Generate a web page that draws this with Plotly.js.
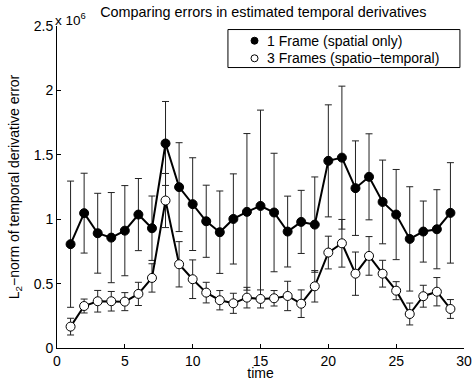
<!DOCTYPE html>
<html>
<head>
<meta charset="utf-8">
<script src="https://cdn.plot.ly/plotly-3.0.1.min.js"></script>
<style>html,body{margin:0;padding:0;background:#fff}</style>
</head>
<body>
<div id="chart" style="width:472px;height:381px"></div>
<script>
// values in units of 10^6
const time = [1,2,3,4,5,6,7,8,9,10,11,12,13,14,15,16,17,18,19,20,21,22,23,24,25,26,27,28,29];
const oneFrame = [0.806,1.047,0.891,0.857,0.911,1.036,0.930,1.588,1.249,1.117,0.984,0.899,1.002,1.057,1.103,1.052,0.904,0.979,0.958,1.453,1.478,1.241,1.329,1.134,1.036,0.847,0.904,0.922,1.049];
const oneFrameErr = [0.49,0.31,0.31,0.35,0.35,0.28,0.25,0.326,0.345,0.36,0.28,0.32,0.35,0.608,0.744,0.46,0.275,0.245,0.37,0.435,0.555,0.367,0.334,0.325,0.35,0.405,0.237,0.307,0.39];
const threeFrames = [0.166,0.326,0.363,0.363,0.360,0.420,0.544,1.145,0.650,0.534,0.430,0.371,0.347,0.391,0.381,0.386,0.404,0.344,0.479,0.741,0.813,0.577,0.715,0.577,0.445,0.264,0.402,0.437,0.303];
const threeFramesErr = [0.065,0.054,0.084,0.076,0.07,0.09,0.11,0.21,0.176,0.15,0.08,0.075,0.078,0.08,0.07,0.06,0.114,0.107,0.122,0.127,0.185,0.168,0.15,0.104,0.07,0.085,0.085,0.11,0.073];
const seriesNames = ['1 Frame (spatial only)', '3 Frames (spatio\u2212temporal)'];
const seriesFill = ['#000', '#fff'];
const yTicks = [0,0.5,1,1.5,2,2.5];
const xTicks = [0,5,10,15,20,25,30];

const F = 'Liberation Sans, Arial, Helvetica, sans-serif';
const errStyle = {type:'data', visible:true, color:'#222', thickness:1, width:3.5};

const traces = [
  {x: time, y: oneFrame, mode:'lines+markers', name: seriesNames[0], showlegend:false,
   error_y: Object.assign({array: oneFrameErr}, errStyle),
   line:{color:'#000', width:2},
   marker:{symbol:'circle', size:9, color:seriesFill[0], line:{color:'#000', width:1}}},
  {x: time, y: threeFrames, mode:'lines+markers', name: seriesNames[1], showlegend:false,
   error_y: Object.assign({array: threeFramesErr}, errStyle),
   line:{color:'#000', width:2},
   marker:{symbol:'circle', size:9, color:seriesFill[1], line:{color:'#000', width:1}}}
];

// manual legend box (paper coordinates of the plot area)
const legBox = {x0:0.420, x1:0.990, y0:0.871, y1:0.989};
const legRowY = [0.9543, 0.8997];
const legMarkX = 0.4853, legTextX = 0.511;

const shapes = [
  {type:'rect', xref:'paper', yref:'paper', x0:legBox.x0, x1:legBox.x1, y0:legBox.y0, y1:legBox.y1,
   line:{color:'#000', width:1}, fillcolor:'#fff', layer:'above'}
];
const annotations = [
  {text:'x 10<sup>6</sup>', xref:'paper', yref:'paper', x:0, y:1, xanchor:'left', yanchor:'bottom',
   showarrow:false, font:{family:F, size:13.5, color:'#000'}, xshift:-4, yshift:-4}
];
seriesNames.forEach((nm, i) => {
  shapes.push({type:'circle', xref:'paper', yref:'paper', xsizemode:'pixel', ysizemode:'pixel',
    xanchor:legMarkX, yanchor:legRowY[i], x0:-3.5, x1:3.5, y0:-3.5, y1:3.5,
    fillcolor:seriesFill[i], line:{color:'#000', width:1}, layer:'above'});
  annotations.push({text:nm, xref:'paper', yref:'paper', x:legTextX, y:legRowY[i],
    xanchor:'left', yanchor:'middle', showarrow:false, font:{family:F, size:14, color:'#000'}});
});

const layout = {
  width:472, height:381,
  margin:{l:57, r:8, t:26, b:33},
  paper_bgcolor:'#fff', plot_bgcolor:'#fff',
  font:{family:F, size:14, color:'#000'},
  showlegend:false,
  title:{text:'Comparing errors in estimated temporal derivatives', font:{family:F, size:14.4, color:'#000'},
         xref:'container', x:0.558, xanchor:'center', yref:'container', y:0.968, yanchor:'middle'},
  xaxis:{range:[0,30], tickvals:xTicks, ticks:'inside', ticklen:4, tickcolor:'#000',
         showline:true, linecolor:'#000', linewidth:1, showgrid:false, zeroline:false, mirror:false,
         title:{text:'time', font:{family:F, size:14}, standoff:4}, tickfont:{family:F, size:14}},
  yaxis:{range:[0,2.5], tickvals:yTicks, ticks:'inside', ticklen:4, tickcolor:'#000',
         showline:true, linecolor:'#000', linewidth:1, showgrid:false, zeroline:false, mirror:false,
         title:{text:'L<sub>2</sub>\u2212norm of temporal derivative error', font:{family:F, size:14}, standoff:10},
         tickfont:{family:F, size:14}},
  shapes: shapes,
  annotations: annotations
};

Plotly.newPlot('chart', traces, layout, {staticPlot:true, displayModeBar:false});
</script>
</body>
</html>
